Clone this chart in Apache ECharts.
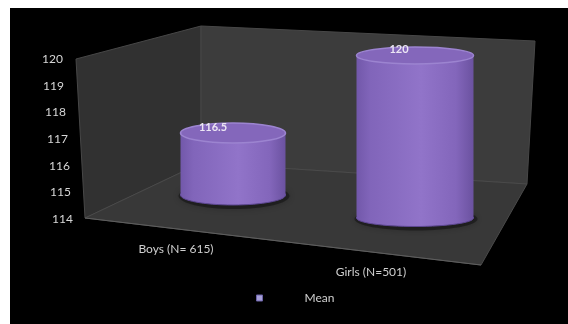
<!DOCTYPE html>
<html>
<head>
<meta charset="utf-8">
<script src="https://cdn.jsdelivr.net/npm/echarts@6/dist/echarts.min.js"></script>
<style>html,body{margin:0;padding:0;background:#000;}#c{width:568px;height:324px;}</style>
</head>
<body>
<div id="c"></div>
<script>
const categories = ['Boys (N= 615)', 'Girls (N=501)'];
const meanValues = [116.5, 120];
const seriesName = 'Mean';
const yMin = 114, yMax = 120, yStep = 1;

// perspective tweaks per category (layout only)
const persp = [
  { dx: 0, dy: -24, s: 0.93, rx: 52.5, ry: 10, lx: -20, catDx: -57 },
  { dx: 0, dy: -1, s: 1.015, rx: 58.5, ry: 8.5, lx: -16, catDx: -44 }
];

const chart = echarts.init(document.getElementById('c'), null, { renderer: 'canvas' });

const rich = {};
for (let k = 0; k <= 6; k++) {
  rich['t' + k] = { padding: [0, Math.round(k * 1.7), 0, 0], color: '#d6d6d6', fontSize: 12, fontFamily: 'Lato' };
}

const bodyGrad = {
  type: 'linear', x: 0, y: 0, x2: 1, y2: 0,
  colorStops: [
    { offset: 0, color: '#7258aa' },
    { offset: 0.12, color: '#8165ba' },
    { offset: 0.55, color: '#9174c9' },
    { offset: 0.85, color: '#8366bb' },
    { offset: 1, color: '#6b52a0' }
  ]
};

function renderItem(params, api) {
  const i = api.value(0), v = api.value(1);
  const p = persp[i];
  const top = api.coord([i, v]);
  const base = api.coord([i, yMin]);
  const cx = top[0] + p.dx;
  const yb = base[1] + p.dy;
  const yt = yb - p.s * (base[1] - top[1]);
  const rx = p.rx, ry = p.ry;
  return {
    type: 'group',
    children: [
      { type: 'ellipse', shape: { cx: cx + 1, cy: yb + 1, rx: rx + 3, ry: ry + 3 },
        style: { fill: 'rgba(10,10,10,0.45)', shadowBlur: 6, shadowColor: 'rgba(0,0,0,0.5)' } },
      { type: 'ellipse', shape: { cx: cx, cy: yb, rx: rx, ry: ry }, style: { fill: bodyGrad, stroke: '#5e4893', lineWidth: 1 } },
      { type: 'rect', shape: { x: cx - rx, y: yt, width: 2 * rx, height: yb - yt }, style: { fill: bodyGrad } },
      { type: 'ellipse', shape: { cx: cx, cy: yt, rx: rx, ry: ry },
        style: { fill: '#8467bb', stroke: '#9c84d0', lineWidth: 1.5 } },
      { type: 'text', x: cx + p.lx, y: yt - 6,
        style: { text: String(v), fill: '#ece6f4', fontSize: 11, fontWeight: 'bold', fontFamily: 'Lato', align: 'center', verticalAlign: 'middle' } },
      { type: 'text', x: cx + p.catDx, y: yb + 54,
        style: { text: categories[i], fill: '#cfcfcf', fontSize: 12, fontFamily: 'Lato', align: 'center', verticalAlign: 'middle' } }
    ]
  };
}

const option = {
  backgroundColor: '#000',
  animation: false,
  grid: { left: 142, right: 62, top: 59, bottom: 105 },
  xAxis: {
    type: 'category', data: categories,
    axisLine: { show: false }, axisTick: { show: false }, axisLabel: { show: false }, splitLine: { show: false }
  },
  yAxis: {
    type: 'value', min: yMin, max: yMax, interval: yStep,
    axisLine: { show: false }, axisTick: { show: false }, splitLine: { show: false },
    axisLabel: {
      margin: 69,
      formatter: function (val) { return '{t' + Math.round(val - yMin) + '|' + val + '}'; },
      rich: rich
    }
  },
  legend: {
    data: [{ name: seriesName, icon: 'rect', itemStyle: { color: '#a79fd8', borderColor: '#6b62a8', borderWidth: 1 } }],
    left: 251, top: 287,
    itemWidth: 6, itemHeight: 6,
    textStyle: { color: '#d0d0d0', fontSize: 12, fontFamily: 'Lato', padding: [0, 0, 0, 37] }
  },
  graphic: [
    { type: 'polygon', z: -10, shape: { points: [[76, 59], [201, 26], [201, 163], [85, 218]] },
      style: { fill: '#313131', stroke: '#474747', lineWidth: 1 } },
    { type: 'polygon', z: -10, shape: { points: [[201, 26], [535, 41], [527, 184], [201, 163]] },
      style: { fill: '#3c3c3c', stroke: '#474747', lineWidth: 1 } },
    { type: 'polygon', z: -10, shape: { points: [[201, 163], [527, 184], [481, 265], [85, 218]] },
      style: { fill: '#383838', stroke: '#4a4a4a', lineWidth: 1 } },
    { type: 'line', z: -9, shape: { x1: 85, y1: 218, x2: 481, y2: 265 }, style: { stroke: '#5e5e5e', lineWidth: 1.2 } },
    { type: 'rect', z: 100, shape: { x: 0, y: 0, width: 568, height: 8 }, style: { fill: '#fff' } },
    { type: 'rect', z: 100, shape: { x: 0, y: 0, width: 10, height: 324 }, style: { fill: '#fff' } }
  ],
  series: [{
    name: seriesName,
    type: 'custom',
    renderItem: renderItem,
    data: categories.map((c, i) => [i, meanValues[i]]),
    itemStyle: { color: '#a79fd8' }
  }]
};
chart.setOption(option);
</script>
</body>
</html>
